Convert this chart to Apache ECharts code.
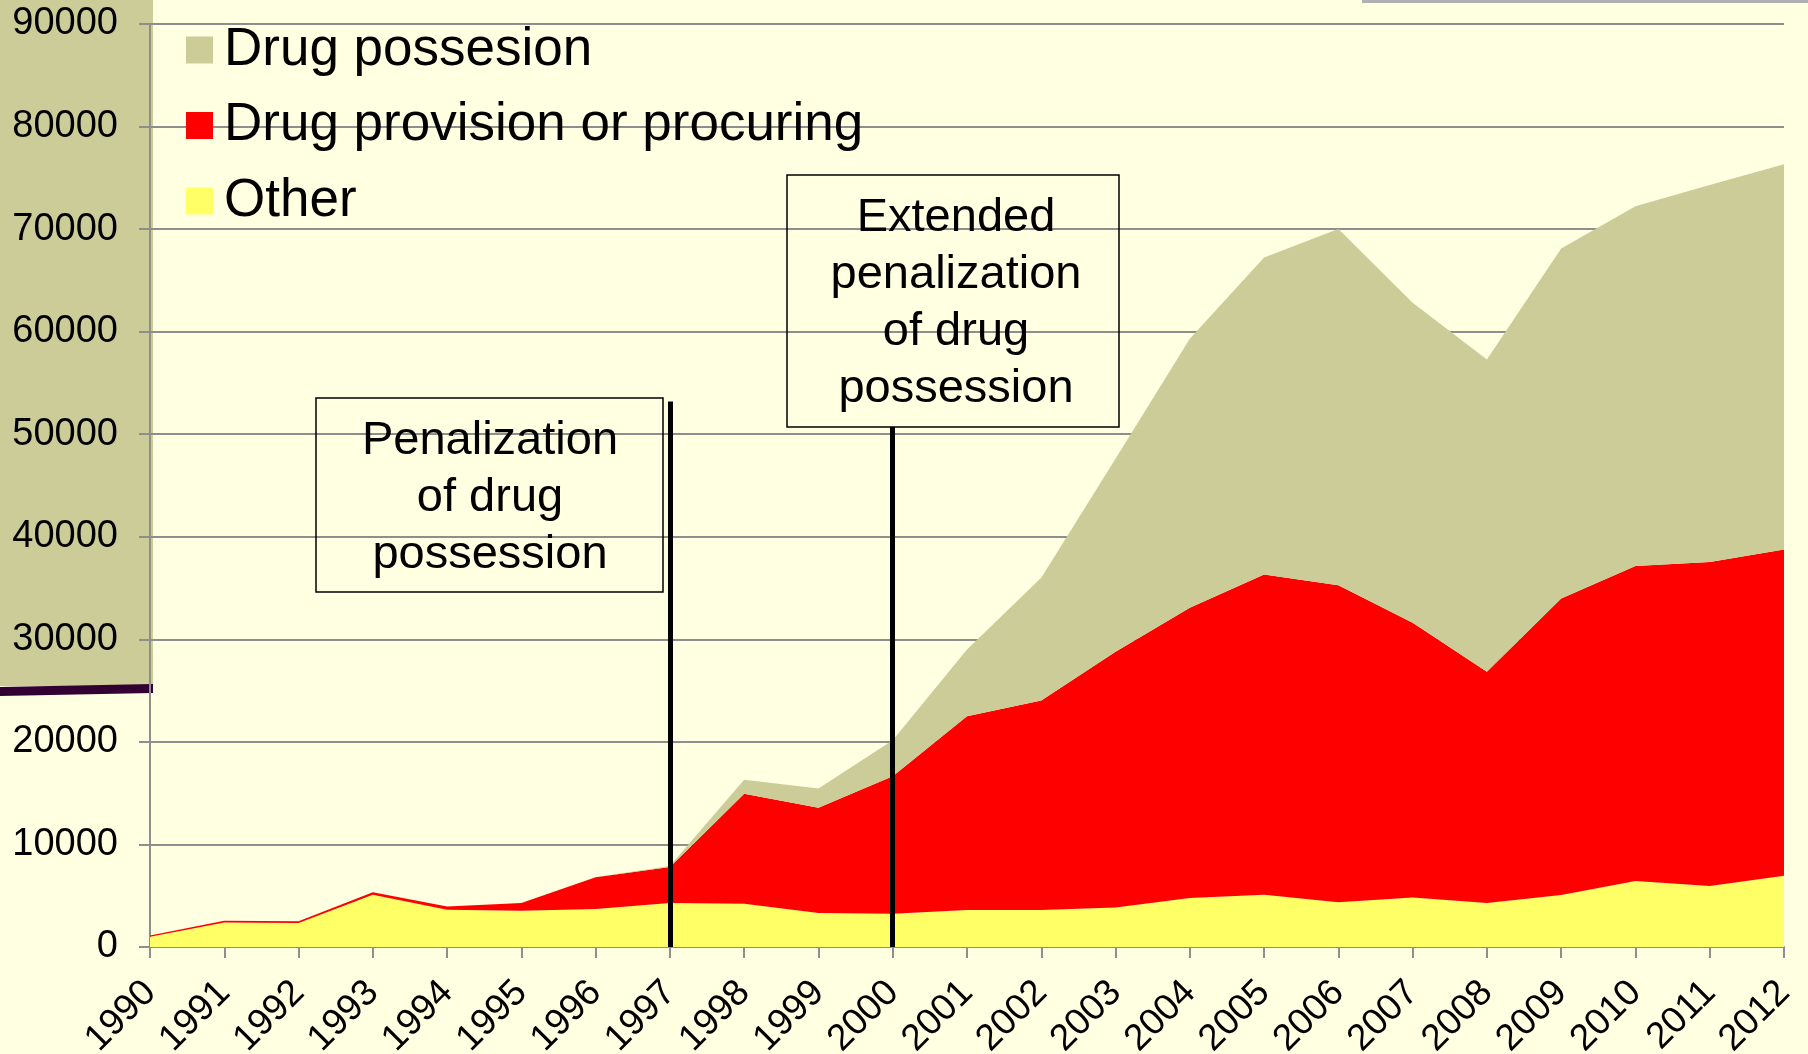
<!DOCTYPE html>
<html>
<head>
<meta charset="utf-8">
<script src="https://cdn.jsdelivr.net/npm/echarts@6/dist/echarts.min.js"></script>
<style>
  html, body { margin: 0; padding: 0; background: #FFFFE1; }
  #chart { width: 1808px; height: 1054px; }
</style>
</head>
<body>
<div id="chart"></div>
<script>
// Years on the horizontal axis
const years = ['1990','1991','1992','1993','1994','1995','1996','1997','1998','1999','2000',
  '2001','2002','2003','2004','2005','2006','2007','2008','2009','2010','2011','2012'];

// Offences per year, stacked bottom to top: Other, provision/procuring, possession
const otherOffences = [1000, 2400, 2350, 5100, 3640, 3540, 3700, 4290, 4220, 3310, 3250,
  3610, 3610, 3840, 4770, 5100, 4370, 4830, 4280, 5080, 6440, 5940, 6950];
const provisionOffences = [130, 150, 150, 250, 320, 750, 3090, 3510, 10720, 10270, 13410,
  18880, 20420, 24940, 28300, 31230, 30900, 26780, 22550, 28900, 30710, 31610, 31810];
const possessionOffences = [0, 0, 0, 0, 0, 0, 0, 100, 1360, 1880, 3500,
  6520, 11980, 18820, 26250, 30910, 34730, 31220, 30460, 34130, 35090, 36750, 37560];

// Legal changes marked on the timeline: year and how high its marker line reaches
const lawYears = ['1997', '2000'];
const lawLineTops = [53200, 50700];
const lawTexts = ['Penalization\nof drug\npossession', 'Extended\npenalization\nof drug\npossession'];

const yTicks = { min: 0, max: 90000, interval: 10000 };

const seriesNames = ['Other', 'Drug provision or procuring', 'Drug possesion'];
const seriesColors = ['#FFFF66', '#FF0000', '#CCCC99'];
const FONT = '"Liberation Sans", Arial, sans-serif';

const chart = echarts.init(document.getElementById('chart'), null, { renderer: 'canvas' });

function areaSeries(name, data, color) {
  return {
    name: name,
    type: 'line',
    stack: 'total',
    data: data,
    symbol: 'none',
    showSymbol: false,
    lineStyle: { width: 0, color: color },
    itemStyle: { color: color },
    areaStyle: { color: color, opacity: 1 },
    silent: true
  };
}

const possession = areaSeries(seriesNames[2], possessionOffences, seriesColors[2]);
possession.markLine = {
  silent: true,
  symbol: 'none',
  label: { show: false },
  lineStyle: { color: '#000', width: 5, type: 'solid' },
  data: lawYears.map((y, i) => [{ coord: [y, lawLineTops[i]] }, { coord: [y, 0] }])
};

const option = {
  backgroundColor: '#FFFFE1',
  animation: false,
  grid: { left: 150, right: 24, top: 24, bottom: 107, containLabel: false, outerBoundsMode: 'none' },
  legend: {
    orient: 'vertical',
    left: 181,
    top: 17,
    itemWidth: 27,
    itemHeight: 27,
    itemGap: 19.5,
    icon: 'rect',
    selectedMode: false,
    data: [seriesNames[2], seriesNames[1], seriesNames[0]],
    textStyle: { fontFamily: FONT, fontSize: 53, lineHeight: 56, color: '#000', padding: [0, 0, 0, 6] }
  },
  xAxis: {
    type: 'category',
    data: years,
    boundaryGap: false,
    axisLine: { lineStyle: { color: '#8E8E8E', width: 2 } },
    axisTick: { show: true, length: 11, interval: 0, lineStyle: { color: '#8E8E8E', width: 2 } },
    axisLabel: { interval: 0, rotate: 45, margin: 40, fontFamily: FONT, fontSize: 37, color: '#000' },
    splitLine: { show: false }
  },
  yAxis: {
    type: 'value',
    min: yTicks.min,
    max: yTicks.max,
    interval: yTicks.interval,
    axisLine: { show: true, lineStyle: { color: '#8E8E8E', width: 2 } },
    axisTick: { show: true, length: 11, lineStyle: { color: '#8E8E8E', width: 2 } },
    axisLabel: { margin: 32, fontFamily: FONT, fontSize: 38, color: '#000', formatter: v => String(v) },
    splitLine: { show: true, lineStyle: { color: '#8E8E8E', width: 2 } }
  },
  series: [
    areaSeries(seriesNames[0], otherOffences, seriesColors[0]),
    areaSeries(seriesNames[1], provisionOffences, seriesColors[1]),
    possession
  ],
  graphic: [
    // olive side panel behind the upper y labels, with its dark underline
    { type: 'rect', z: -10, shape: { x: 0, y: 0, width: 153, height: 686 }, style: { fill: '#CCCC99' }, silent: true },
    { type: 'polygon', z: -9, shape: { points: [[0, 687], [153, 684], [153, 693], [0, 696]] }, style: { fill: '#330033' }, silent: true },
    // thin grey rule along the top right
    { type: 'rect', z: -10, shape: { x: 1362, y: 0, width: 446, height: 3 }, style: { fill: '#B0B0B0' }, silent: true },
    // annotation boxes
    { type: 'rect', z: 100, shape: { x: 316, y: 398, width: 347, height: 194 }, style: { fill: 'none', stroke: '#000', lineWidth: 1.5 }, silent: true },
    { type: 'text', z: 101, x: 490, y: 413, style: { text: lawTexts[0], fontFamily: FONT, fontSize: 47, lineHeight: 57, fill: '#000', align: 'center', verticalAlign: 'top' }, silent: true },
    { type: 'rect', z: 100, shape: { x: 787, y: 175, width: 332, height: 252 }, style: { fill: 'none', stroke: '#000', lineWidth: 1.5 }, silent: true },
    { type: 'text', z: 101, x: 956, y: 190, style: { text: lawTexts[1], fontFamily: FONT, fontSize: 47, lineHeight: 57, fill: '#000', align: 'center', verticalAlign: 'top' }, silent: true }
  ]
};

chart.setOption(option);
</script>
</body>
</html>
